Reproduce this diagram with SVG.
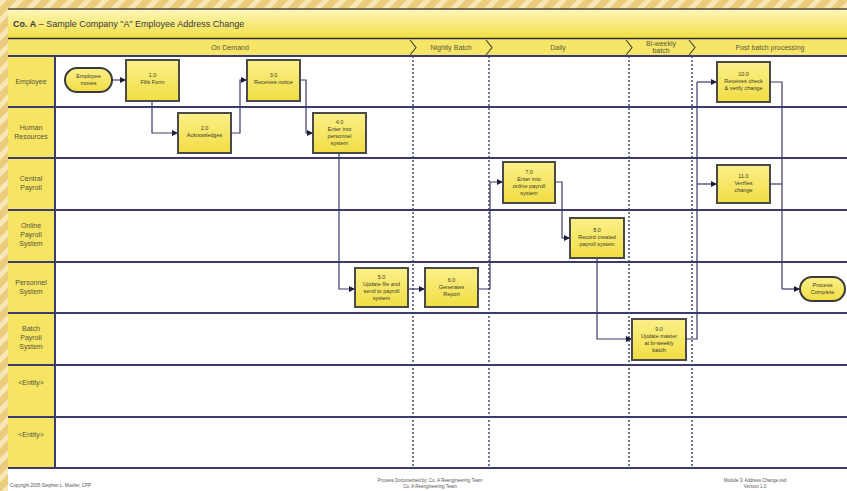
<svg xmlns="http://www.w3.org/2000/svg" width="847" height="491" viewBox="0 0 847 491">
<defs>
  <pattern id="bgp" width="12" height="12" patternUnits="userSpaceOnUse" patternTransform="rotate(45)">
    <rect width="12" height="12" fill="#ebcb7c"/>
    <rect width="5" height="12" fill="#f8e7b6"/>
  </pattern>
  <linearGradient id="titleG" x1="0" y1="0" x2="0" y2="1">
    <stop offset="0" stop-color="#fdf6bc"/>
    <stop offset="1" stop-color="#f3e044"/>
  </linearGradient>
  <linearGradient id="boxG" x1="0" y1="0" x2="0" y2="1">
    <stop offset="0" stop-color="#fbf08a"/>
    <stop offset="1" stop-color="#f2dd44"/>
  </linearGradient>
  <marker id="arr" viewBox="0 0 6 6" refX="6" refY="3" markerWidth="6" markerHeight="6" markerUnits="userSpaceOnUse" orient="auto">
    <path d="M0,0 L6,3 L0,6 z" fill="#1c1c3c"/>
  </marker>
  <style>
    .lane { stroke:#3b3b6e; stroke-width:2; fill:none; }
    .phase { stroke:#2c2c5c; stroke-width:1.3; stroke-dasharray:2 2; fill:none; }
    .conn { stroke:#3a3a6a; stroke-width:1.2; fill:none; marker-end:url(#arr); }
    .connn { stroke:#3a3a6a; stroke-width:1.2; fill:none; }
    .box { fill:url(#boxG); stroke:#4a4a48; stroke-width:2; }
    .pill { fill:url(#boxG); stroke:#3a3a3a; stroke-width:2; }
    .bt { font-family:"Liberation Sans", Arial, sans-serif; font-size:5.5px; fill:#3a3a2a; text-anchor:middle; }
    .lt { font-family:"Liberation Sans", Arial, sans-serif; font-size:7px; fill:#55553f; text-anchor:middle; }
    .ht { font-family:"Liberation Sans", Arial, sans-serif; font-size:7px; fill:#5a5a40; text-anchor:middle; }
    .ft { font-family:"Liberation Sans", Arial, sans-serif; font-size:4.5px; fill:#555; }
  </style>
</defs>

<!-- background -->
<rect width="847" height="491" fill="url(#bgp)"/>
<rect x="8" y="9" width="839" height="482" fill="#ffffff"/>

<!-- title bar -->
<rect x="8" y="9" width="839" height="29" fill="url(#titleG)"/>
<line x1="8" y1="9" x2="847" y2="9" stroke="#4a4a40" stroke-width="1.5"/>
<text x="13" y="27" font-family="'Liberation Sans', Arial, sans-serif" font-size="9" fill="#3a3a3a"><tspan font-weight="bold">Co. A</tspan> – Sample Company "A" Employee Address Change</text>

<!-- phase header -->
<rect x="8" y="39" width="839" height="17" fill="#f6e566"/>
<line x1="8" y1="38.5" x2="847" y2="38.5" stroke="#2e2e4e" stroke-width="1.5"/>
<g fill="none" stroke="#4a4a3a" stroke-width="1.2">
  <polyline points="410,40 416,47.5 410,55"/>
  <polyline points="486,40 492,47.5 486,55"/>
  <polyline points="626,40 632,47.5 626,55"/>
  <polyline points="689,40 695,47.5 689,55"/>
</g>
<text class="ht" x="230" y="50">On Demand</text>
<text class="ht" x="451" y="50">Nightly Batch</text>
<text class="ht" x="558" y="50">Daily</text>
<text class="ht" x="661" y="46" font-size="5">Bi-weekly</text>
<text class="ht" x="661" y="53" font-size="5">batch</text>
<text class="ht" x="770" y="50">Post batch processing</text>

<!-- lane label column -->
<rect x="8" y="56" width="47" height="412" fill="#f7e462"/>

<!-- phase dividers -->
<g id="phases">
  <line class="phase" x1="413" y1="56" x2="413" y2="468"/>
  <line class="phase" x1="489" y1="56" x2="489" y2="468"/>
  <line class="phase" x1="629" y1="56" x2="629" y2="468"/>
  <line class="phase" x1="692" y1="56" x2="692" y2="468"/>
</g>

<!-- lane lines -->
<g id="lanes">
  <line class="lane" x1="8" y1="56" x2="847" y2="56"/>
  <line class="lane" x1="8" y1="107" x2="847" y2="107"/>
  <line class="lane" x1="8" y1="158" x2="847" y2="158"/>
  <line class="lane" x1="8" y1="210" x2="847" y2="210"/>
  <line class="lane" x1="8" y1="262" x2="847" y2="262"/>
  <line class="lane" x1="8" y1="313" x2="847" y2="313"/>
  <line class="lane" x1="8" y1="365" x2="847" y2="365"/>
  <line class="lane" x1="8" y1="417" x2="847" y2="417"/>
  <line class="lane" x1="8" y1="468" x2="847" y2="468"/>
  <line class="lane" x1="55" y1="56" x2="55" y2="468"/>
</g>

<!-- lane labels -->
<g id="laneLabels">
  <text class="lt" x="31" y="84">Employee</text>
  <text class="lt" x="31" y="130">Human</text>
  <text class="lt" x="31" y="139">Resources</text>
  <text class="lt" x="31" y="181">Central</text>
  <text class="lt" x="31" y="190">Payroll</text>
  <text class="lt" x="31" y="228">Online</text>
  <text class="lt" x="31" y="237">Payroll</text>
  <text class="lt" x="31" y="246">System</text>
  <text class="lt" x="31" y="285">Personnel</text>
  <text class="lt" x="31" y="294">System</text>
  <text class="lt" x="31" y="331">Batch</text>
  <text class="lt" x="31" y="340">Payroll</text>
  <text class="lt" x="31" y="349">System</text>
  <text class="lt" x="31" y="385">&lt;Entity&gt;</text>
  <text class="lt" x="31" y="437">&lt;Entity&gt;</text>
</g>

<!-- connectors -->
<g id="connectors">
  <path class="conn" d="M112,80 H126"/>
  <path class="conn" d="M152,101 V133 H178"/>
  <path class="conn" d="M231,133 H240 V80 H247"/>
  <path class="conn" d="M300,80 H306 V133 H313"/>
  <path class="conn" d="M339,153 V289 H355"/>
  <path class="conn" d="M408,289 H425"/>
  <path class="conn" d="M478,289 H490 V182 H503"/>
  <path class="conn" d="M555,182 H562 V238 H570"/>
  <path class="conn" d="M597,258 V339 H632"/>
  <path class="connn" d="M686,339 H697 V82"/>
  <path class="conn" d="M697,82 H717"/>
  <path class="conn" d="M697,184 H717"/>
  <path class="connn" d="M770,82 H782 V289"/>
  <path class="connn" d="M770,184 H782"/>
  <path class="conn" d="M782,289 H800"/>
</g>

<!-- nodes -->
<g id="start">
  <rect class="pill" x="65" y="68" width="47" height="24" rx="12"/>
  <text class="bt" x="88.5" y="78">Employee</text>
  <text class="bt" x="88.5" y="85">moves</text>
</g>
<g id="n1">
  <rect class="box" x="126" y="60" width="53" height="41"/>
  <text class="bt" x="152.5" y="77">1.0</text>
  <text class="bt" x="152.5" y="84">Fills Form</text>
</g>
<g id="n2">
  <rect class="box" x="178" y="113" width="53" height="40"/>
  <text class="bt" x="204.5" y="130">2.0</text>
  <text class="bt" x="204.5" y="137">Acknowledges</text>
</g>
<g id="n3">
  <rect class="box" x="247" y="60" width="53" height="41"/>
  <text class="bt" x="273.5" y="77">3.0</text>
  <text class="bt" x="273.5" y="84">Receives notice</text>
</g>
<g id="n4">
  <rect class="box" x="313" y="113" width="53" height="40"/>
  <text class="bt" x="339.5" y="124">4.0</text>
  <text class="bt" x="339.5" y="131">Enter into</text>
  <text class="bt" x="339.5" y="138">personnel</text>
  <text class="bt" x="339.5" y="145">system</text>
</g>
<g id="n5">
  <rect class="box" x="355" y="268" width="53" height="39"/>
  <text class="bt" x="381.5" y="279">5.0</text>
  <text class="bt" x="381.5" y="286">Update file and</text>
  <text class="bt" x="381.5" y="293">send to payroll</text>
  <text class="bt" x="381.5" y="300">system</text>
</g>
<g id="n6">
  <rect class="box" x="425" y="268" width="53" height="39"/>
  <text class="bt" x="451.5" y="282">6.0</text>
  <text class="bt" x="451.5" y="289">Generates</text>
  <text class="bt" x="451.5" y="296">Report</text>
</g>
<g id="n7">
  <rect class="box" x="503" y="162" width="52" height="41"/>
  <text class="bt" x="529" y="174">7.0</text>
  <text class="bt" x="529" y="181">Enter into</text>
  <text class="bt" x="529" y="188">online payroll</text>
  <text class="bt" x="529" y="195">system</text>
</g>
<g id="n8">
  <rect class="box" x="570" y="218" width="54" height="40"/>
  <text class="bt" x="597" y="232">8.0</text>
  <text class="bt" x="597" y="239">Record created</text>
  <text class="bt" x="597" y="246">payroll system</text>
</g>
<g id="n9">
  <rect class="box" x="632" y="319" width="54" height="41"/>
  <text class="bt" x="659" y="331">9.0</text>
  <text class="bt" x="659" y="338">Update master</text>
  <text class="bt" x="659" y="345">at bi-weekly</text>
  <text class="bt" x="659" y="352">batch</text>
</g>
<g id="n10">
  <rect class="box" x="717" y="62" width="53" height="40"/>
  <text class="bt" x="743.5" y="76">10.0</text>
  <text class="bt" x="743.5" y="83">Receives check</text>
  <text class="bt" x="743.5" y="90">&amp; verify change</text>
</g>
<g id="n11">
  <rect class="box" x="717" y="165" width="53" height="38"/>
  <text class="bt" x="743.5" y="178">11.0</text>
  <text class="bt" x="743.5" y="185">Verifies</text>
  <text class="bt" x="743.5" y="192">change</text>
</g>
<g id="end">
  <rect class="pill" x="800" y="277" width="45" height="24" rx="12"/>
  <text class="bt" x="822.5" y="287">Process</text>
  <text class="bt" x="822.5" y="294">Complete</text>
</g>

<!-- footer -->
<g id="footer">
  <text class="ft" x="10" y="487">Copyright 2005 Stephen L. Mueller, CPP</text>
  <text class="ft" x="430" y="482" text-anchor="middle">Process Documented by: Co. A Reengineering Team</text>
  <text class="ft" x="430" y="488" text-anchor="middle">Co. A Reengineering Team</text>
  <text class="ft" x="755" y="482" text-anchor="middle">Module 3: Address Change.vsd</text>
  <text class="ft" x="755" y="488" text-anchor="middle">Version 1.0</text>
</g>
</svg>
